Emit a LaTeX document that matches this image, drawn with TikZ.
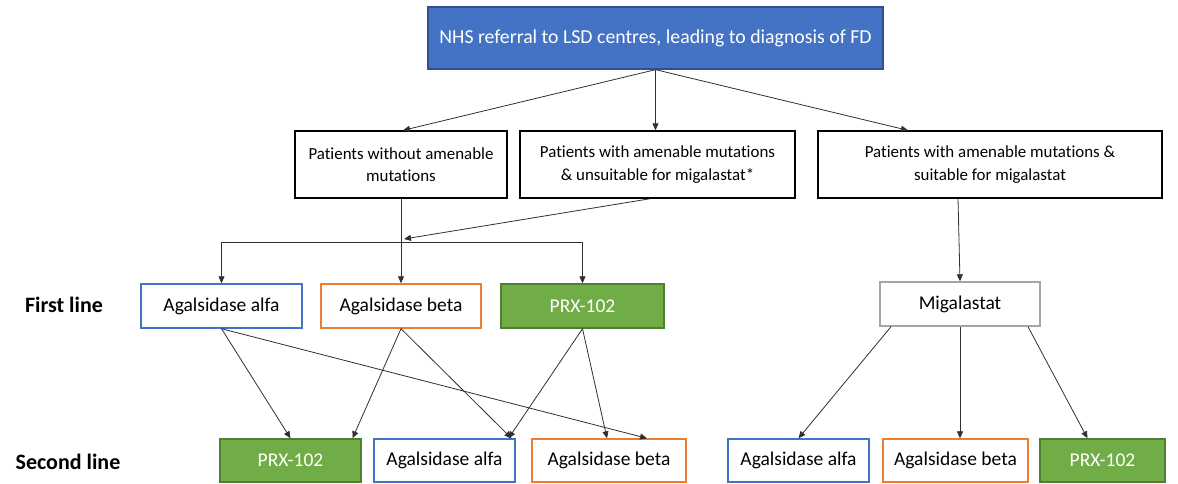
\documentclass[tikz,border=0pt]{standalone}
\usepackage{fontspec}
\setmainfont{Carlito}[Ligatures=NoCommon]
\usetikzlibrary{arrows.meta,calc}
\definecolor{nhsblue}{HTML}{4472C4}
\definecolor{nhsblueD}{HTML}{2F528F}
\definecolor{prxgreen}{HTML}{70AD47}
\definecolor{prxgreenD}{HTML}{507E32}
\definecolor{betaorange}{HTML}{ED7D31}
\definecolor{miggray}{HTML}{A5A5A5}
\definecolor{linegray}{HTML}{303030}
\tikzset{
  box/.style={draw, rectangle, inner sep=0pt, align=center, line width=1.3pt},
  topbox/.style={box, fill=nhsblue, draw=nhsblueD, text=white, font=\fontsize{19.8}{23}\selectfont},
  patbox/.style={box, draw=black, font=\fontsize{16.9}{22.5}\selectfont},
  drug/.style={box, line width=1.4pt, font=\fontsize{19.5}{23}\selectfont, minimum height=44pt},
  alfa/.style={drug, draw=nhsblue},
  beta/.style={drug, draw=betaorange},
  prx/.style={drug, fill=prxgreen, draw=prxgreenD, text=white},
  mig/.style={drug, draw=miggray},
  rowlabel/.style={font=\bfseries\fontsize{22}{26}\selectfont},
  conn/.style={draw=linegray, line width=0.8pt},
  arr/.style={conn, -{Triangle[length=7pt,width=6pt]}}
}
\begin{document}
\begin{tikzpicture}[x=1pt,y=-1pt]
\useasboundingbox (0,0) rectangle (1178,483);
% top
\node[topbox, minimum width=455pt, minimum height=62pt] (top) at (655.5,38) {NHS referral to LSD centres, leading to diagnosis of FD};
% patient groups
\node[patbox, minimum width=212pt, minimum height=67pt] (p1) at (401,164.5) {Patients without amenable\\mutations};
\node[patbox, minimum width=275pt, minimum height=67pt] (p2) at (657.5,164.5) {Patients with amenable mutations\\\& unsuitable for migalastat*};
\node[patbox, minimum width=344pt, minimum height=67pt] (p3) at (990,164.5) {Patients with amenable mutations \&\\suitable for migalastat};
% first line
\node[alfa, minimum width=161pt] (a1) at (221.5,306) {Agalsidase alfa};
\node[beta, minimum width=160pt] (b1) at (401,306) {Agalsidase beta};
\node[prx, minimum width=163pt] (r1) at (582.5,306) {PRX-102};
\node[mig, minimum width=160pt] (m1) at (960,304) {Migalastat};
% second line
\node[prx, minimum width=141pt, minimum height=43pt] (r2) at (290.5,460.5) {PRX-102};
\node[alfa, minimum width=141pt, minimum height=43pt] (a2) at (444.5,460.5) {Agalsidase alfa};
\node[beta, minimum width=154pt, minimum height=43pt] (b2) at (609,460.5) {Agalsidase beta};
\node[alfa, minimum width=141pt, minimum height=43pt] (a3) at (798.5,460.5) {Agalsidase alfa};
\node[beta, minimum width=145pt, minimum height=43pt] (b3) at (955.5,460.5) {Agalsidase beta};
\node[prx, minimum width=125pt, minimum height=43pt] (r3) at (1102.5,460.5) {PRX-102};
% row labels
\node[rowlabel] (l1) at (64,305) {First line};
\node[rowlabel] (l2) at (68,462) {Second line};
% connectors from top
\draw[arr] (top.south) -- ([xshift=2pt]p1.north);
\draw[arr] (top.south) -- (top.south |- p2.north);
\draw[arr] (top.south) -- ([xshift=-82pt]p3.north);
% junction
\coordinate (j) at (p1.south |- 0,242);
\draw[conn] (p1.south) -- (j);
\draw[arr] ([xshift=-7pt]p2.south) -- ([xshift=3pt,yshift=3pt]j);
\draw[conn] (a1.north |- j) -- (r1.north |- j);
\draw[arr] (a1.north |- j) -- (a1.north);
\draw[arr] (j) -- (b1.north);
\draw[arr] (r1.north |- j) -- (r1.north);
\draw[arr] ([xshift=-32pt]p3.south) -- (m1.north);
% first to second line
\draw[arr] (a1.south) -- (r2.north);
\draw[arr] (a1.south) -- ([xshift=38pt]b2.north);
\draw[arr] (b1.south) -- ([xshift=62pt]r2.north);
\draw[arr] (b1.south) -- ([xshift=67pt]a2.north);
\draw[arr] (r1.south) -- ([xshift=64pt]a2.north);
\draw[arr] (r1.south) -- ([xshift=-2pt]b2.north);
\draw[arr] ([xshift=-69pt]m1.south) -- (a3.north);
\draw[arr] (m1.south) -- (m1.south |- b3.north);
\draw[arr] ([xshift=68pt]m1.south) -- ([xshift=-15pt]r3.north);
\end{tikzpicture}
\end{document}
